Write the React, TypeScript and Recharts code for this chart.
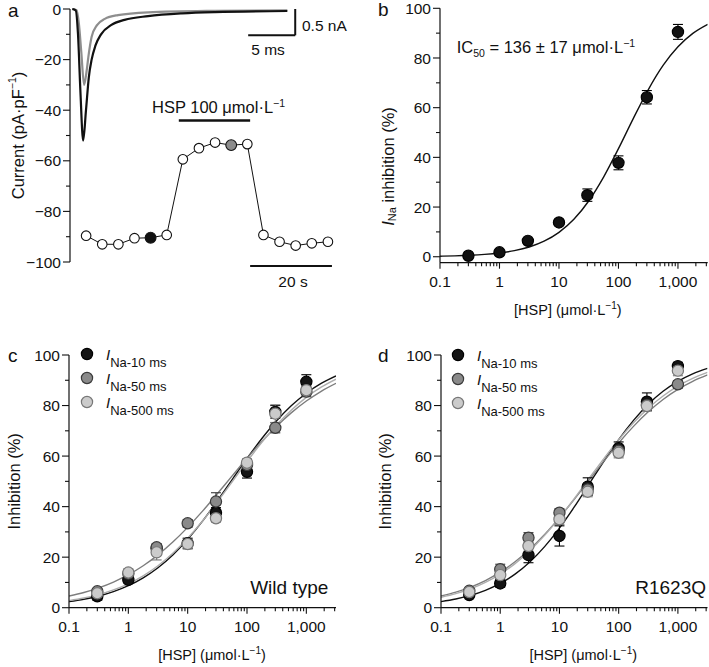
import React from "react";
import {
  ComposedChart,
  Line,
  Scatter,
  XAxis,
  YAxis,
  ErrorBar,
  ReferenceLine,
  Legend,
} from "recharts";

const FONT = '"Liberation Sans", Arial, Helvetica, sans-serif';
const INK = "#111";

// ---- panel a: Na current traces (ms) and time course (s)
const traceTimeControl = [0.25, 0.6, 0.85, 1.1, 1.4, 1.7, 2.0, 2.3, 2.7, 3.3, 4.4, 5.8, 8.3, 11.9, 15.4, 23.1];
const traceControl = [0, -0.5, -10, -32, -52, -40, -27, -20, -14.5, -10, -6.3, -4.3, -2.8, -1.7, -1.2, -0.8];
const traceTimeHsp = [0.25, 0.7, 0.95, 1.2, 1.5, 1.75, 1.95, 2.3, 2.85, 3.7, 5.1, 8.3, 15.4, 23.1];
const traceHsp = [0, -0.5, -6, -17, -30, -25, -19, -11, -6.5, -3.9, -2.4, -1.3, -0.7, -0.5];

const courseTime = [4, 8, 12, 16, 20, 24, 28, 32, 36, 40, 44, 48, 52, 56, 60, 64];
const courseCurrent = [-89.6, -93, -93, -90.6, -90.4, -89.3, -59.4, -55, -52.8, -53.8, -53.4, -89.3, -92, -93.5, -92.6, -92];
const controlIndex = 4;
const hspIndex = 9;

// ---- dose-response data
const conc = [0.3, 1, 3, 10, 30, 100, 300, 1000];
const fitConc = [0.1, 0.178, 0.316, 0.562, 1, 1.78, 3.16, 5.62, 10, 17.8, 31.6, 56.2, 100, 178, 316, 562, 1000, 1778, 3162];

const inaInhibition = [0.4, 1.8, 6.4, 13.8, 24.8, 37.8, 64.2, 90.5];
const inaSem = [0.5, 0.6, 1.0, 1.2, 2.5, 2.8, 2.7, 3.0];
const inaFit = [0.22, 0.35, 0.57, 0.93, 1.51, 2.45, 3.92, 6.25, 9.81, 15.06, 22.44, 32.07, 43.5, 55.7, 67.2, 77.0, 84.5, 89.9, 93.55];

const wt10 = [4.5, 11, 23.5, 25.5, 37.6, 53.8, 77.5, 89.4];
const wt10Sem = [1.5, 1.2, 1.5, 2, 2, 2.5, 2.5, 2.8];
const wt50 = [6.5, 13.5, 23.9, 33.4, 42, 56.5, 71.2, 85.5];
const wt50Sem = [1, 1.5, 1.5, 1.5, 3.5, 2, 2, 2];
const wt500 = [5.7, 13.9, 21.9, 25.2, 35.4, 57.4, 76.8, 86.1];
const wt500Sem = [1.5, 1.5, 3, 2, 1.5, 1.5, 3.5, 2];
const wtFit10 = [2.39, 3.33, 4.61, 6.36, 8.7, 11.81, 15.83, 20.89, 27.06, 34.25, 42.25, 50.68, 59.07, 66.96, 74.0, 80.0, 84.88, 88.75, 91.72];
const wtFit50 = [4.61, 6.03, 7.85, 10.16, 13.05, 16.61, 20.92, 25.99, 31.79, 38.21, 45.08, 52.15, 59.13, 65.76, 71.82, 77.19, 81.79, 85.64, 88.79];
const wtFit500 = [2.8, 3.83, 5.2, 7.04, 9.46, 12.59, 16.58, 21.52, 27.46, 34.29, 41.87, 49.85, 57.82, 65.41, 72.29, 78.25, 83.24, 87.26, 90.43];

const mut10 = [5, 9.6, 20.8, 28.4, 47.9, 63.1, 81.5, 95.6];
const mut10Sem = [1, 1.5, 3, 4, 3.5, 2.5, 3.5, 1.5];
const mut50 = [6.7, 15.2, 27.7, 37.6, 46.8, 62.1, 80.2, 88.4];
const mut50Sem = [1, 2, 2, 1.5, 2, 2, 2, 1.5];
const mut500 = [6.2, 12.9, 24.4, 35, 45.9, 61.3, 79.8, 93.8];
const mut500Sem = [1, 1.5, 2, 2, 2, 2, 2, 2];
const mutFit10 = [2.4, 3.42, 4.86, 6.86, 9.6, 13.29, 18.1, 24.16, 31.48, 39.86, 48.87, 57.95, 66.53, 74.13, 80.53, 85.64, 89.58, 92.53, 94.7];
const mutFit50 = [4.61, 6.15, 8.16, 10.76, 14.06, 18.16, 23.13, 28.99, 35.64, 42.9, 50.46, 58.0, 65.2, 71.76, 77.51, 82.39, 86.38, 89.59, 92.11];
const mutFit500 = [4.1, 5.56, 7.5, 10.04, 13.31, 17.45, 22.54, 28.61, 35.55, 43.18, 51.12, 59.01, 66.47, 73.18, 78.98, 83.8, 87.69, 90.74, 93.1];

const pulseNames = ["INa-10 ms", "INa-50 ms", "INa-500 ms"];

// ticks
const logMajor = [0.1, 1, 10, 100, 1000];
const logTicks = logMajor
  .flatMap((d) => [1, 2, 3, 4, 5, 6, 7, 8, 9].map((m) => +(d * m).toPrecision(2)))
  .filter((v) => v <= 3162);
const pctTicks = [0, 10, 20, 30, 40, 50, 60, 70, 80, 90, 100];
const pctMajor = [0, 20, 40, 60, 80, 100];
const currentTicks = [-100, -90, -80, -70, -60, -50, -40, -30, -20, -10, 0];
const currentMajor = [-100, -80, -60, -40, -20, 0];

const axisStyle = { stroke: INK, strokeWidth: 1.2 };

const rows = (xs: number[], ys: number[], errs?: number[]) =>
  xs.map((x, i) => ({ x, y: ys[i], err: errs ? errs[i] : 0 }));

function makeYTick(majors: number[], fmt: (v: number) => string) {
  return (props: any) => {
    const { x, y, payload } = props;
    const major = majors.includes(payload.value);
    return (
      <g>
        <line x1={x} x2={x - (major ? 7 : 4)} y1={y} y2={y} stroke={INK} strokeWidth={1.1} />
        {major && (
          <text x={x - 9} y={y} dy="0.36em" textAnchor="end" fontSize={15.5} fontFamily={FONT} fill={INK}>
            {fmt(payload.value)}
          </text>
        )}
      </g>
    );
  };
}

function LogTick(props: any) {
  const { x, y, payload } = props;
  const major = logMajor.includes(payload.value);
  return (
    <g>
      <line x1={x} x2={x} y1={y} y2={y + (major ? 6 : 3.5)} stroke={INK} strokeWidth={1.1} />
      {major && (
        <text x={x} y={y + 19} dy="0.36em" textAnchor="middle" fontSize={15.5} fontFamily={FONT} fill={INK}>
          {payload.value.toLocaleString("en-US")}
        </text>
      )}
    </g>
  );
}

const yTitle = (dx: number, dy: number, body: React.ReactNode) => (p: any) => {
  const vb = p.viewBox || { x: 0, y: 0, height: 0 };
  const cx = vb.x + dx;
  const cy = vb.y + vb.height / 2 + dy;
  return (
    <text
      x={cx}
      y={cy}
      transform={`rotate(-90 ${cx} ${cy})`}
      textAnchor="middle"
      dominantBaseline="central"
      fontSize={16.5}
      fontFamily={FONT}
      fill={INK}
    >
      {body}
    </text>
  );
};

const xTitle = (dx: number) => (p: any) => {
  const vb = p.viewBox || { x: 0, y: 0, width: 0 };
  return (
    <text x={vb.x + vb.width / 2 + dx} y={vb.y + 52} textAnchor="middle" fontSize={14.5} fontFamily={FONT} fill={INK}>
      [HSP] (μmol·L
      <tspan fontSize={10} dy={-6}>−1</tspan>
      <tspan dy={6}>)</tspan>
    </text>
  );
};

type Series = {
  name: string;
  values: number[];
  sem: number[];
  fit: number[];
  fill: string;
  edge: string;
  curve: string;
};

const dotShape = (fill: string, edge: string) => (p: any) =>
  <circle cx={p.cx} cy={p.cy} r={5.6} fill={fill} stroke={edge} strokeWidth={1.2} />;

function PulseLegend({ payload, series }: { payload?: any[]; series: Series[] }) {
  const items = (payload || []).filter((it) => it.type !== "none");
  return (
    <svg width={150} height={76} style={{ overflow: "visible" }}>
      {items.map((it, i) => {
        const s = series.find((q) => q.name === it.value) || series[i];
        const cy = 8 + i * 24;
        return (
          <g key={it.value}>
            <circle cx={8} cy={cy} r={5.6} fill={s.fill} stroke={s.edge} strokeWidth={1.2} />
            <text x={27} y={cy + 6} fontFamily={FONT} fill={INK}>
              <tspan fontStyle="italic" fontSize={15}>{String(it.value).slice(0, 1)}</tspan>
              <tspan fontSize={13} dy={6.5}>{String(it.value).slice(1)}</tspan>
            </text>
          </g>
        );
      })}
    </svg>
  );
}

function DoseChart(props: {
  left: number;
  top: number;
  width: number;
  height: number;
  margin: { top: number; right: number; bottom: number; left: number };
  yAxisWidth: number;
  yMin: number;
  series: Series[];
  title: React.ReactNode;
  titleX: number;
  titleDy: number;
  xTitleDx: number;
  legendAt?: { left: number; top: number };
}) {
  const { series } = props;
  return (
    <div style={{ position: "absolute", left: props.left, top: props.top }}>
      <ComposedChart width={props.width} height={props.height} margin={props.margin}>
        <XAxis
          dataKey="x"
          type="number"
          scale="log"
          domain={[0.1, 3162]}
          allowDataOverflow
          ticks={logTicks}
          interval={0}
          height={40}
          tickSize={0}
          tickMargin={0}
          tickLine={false}
          axisLine={axisStyle}
          tick={LogTick}
          label={xTitle(props.xTitleDx)}
        />
        <YAxis
          dataKey="y"
          type="number"
          domain={[props.yMin, 100]}
          allowDataOverflow
          ticks={pctTicks}
          interval={0}
          width={props.yAxisWidth}
          tickSize={0}
          tickMargin={0}
          tickLine={false}
          axisLine={axisStyle}
          tick={makeYTick(pctMajor, (v) => String(v))}
          label={yTitle(props.titleX, props.titleDy, props.title)}
        />
        {series.map((s) => (
          <Line
            key={"fit-" + s.name}
            data={rows(fitConc, s.fit)}
            dataKey="y"
            type="monotone"
            stroke={s.curve}
            strokeWidth={1.4}
            dot={false}
            activeDot={false}
            legendType="none"
            isAnimationActive={false}
          />
        ))}
        {series.map((s) => (
          <Scatter
            key={s.name}
            name={s.name}
            data={rows(conc, s.values, s.sem)}
            dataKey="y"
            fill={s.fill}
            shape={dotShape(s.fill, s.edge)}
            isAnimationActive={false}
          >
            <ErrorBar dataKey="err" direction="y" width={5} stroke={s.edge} strokeWidth={1.1} />
          </Scatter>
        ))}
        {props.legendAt && (
          <Legend
            layout="vertical"
            align="center"
            verticalAlign="middle"
            wrapperStyle={{ left: props.legendAt.left, top: props.legendAt.top, width: 150 }}
            content={(p: any) => <PulseLegend payload={p.payload} series={series} />}
          />
        )}
      </ComposedChart>
    </div>
  );
}

function PanelA() {
  const ctl = traceTimeControl.map((t, i) => ({ t, v: traceControl[i] }));
  const hsp = traceTimeHsp.map((t, i) => ({ t, v: traceHsp[i] }));
  const course = courseTime.map((s, i) => ({ s, v: courseCurrent[i] }));
  const courseDot = (p: any) => {
    const fill = p.index === controlIndex ? INK : p.index === hspIndex ? "#8c8c8c" : "#fff";
    return (
      <circle
        key={"c" + p.index}
        cx={p.cx}
        cy={p.cy}
        r={fill === "#fff" ? 4.8 : 5.4}
        fill={fill}
        stroke={INK}
        strokeWidth={1.1}
      />
    );
  };
  return (
    <div style={{ position: "absolute", left: 0, top: 0 }}>
      <ComposedChart width={355} height={300} margin={{ top: 9, right: 15, bottom: 38, left: 0 }}>
        <XAxis xAxisId="t" dataKey="t" type="number" domain={[0, 28.7]} hide />
        <XAxis xAxisId="s" dataKey="s" type="number" domain={[0, 67]} hide />
        <YAxis
          dataKey="v"
          type="number"
          domain={[-100, 0]}
          ticks={currentTicks}
          interval={0}
          width={70}
          tickSize={0}
          tickMargin={0}
          tickLine={false}
          axisLine={axisStyle}
          tick={makeYTick(currentMajor, (v) => (v === 0 ? "0" : "−" + Math.abs(v)))}
          label={yTitle(18, 0, (
            <>
              Current (pA·pF
              <tspan fontSize={10.5} dy={-6}>−1</tspan>
              <tspan dy={6}>)</tspan>
            </>
          ))}
        />
        <Line xAxisId="t" data={hsp} dataKey="v" type="monotone" stroke="#8e8e8e" strokeWidth={2.2} dot={false} activeDot={false} isAnimationActive={false} />
        <Line xAxisId="t" data={ctl} dataKey="v" type="monotone" stroke={INK} strokeWidth={2.2} dot={false} activeDot={false} isAnimationActive={false} />
        <Line xAxisId="s" data={course} dataKey="v" type="linear" stroke={INK} strokeWidth={1} dot={courseDot} activeDot={false} isAnimationActive={false} />
        {/* HSP application bar */}
        <ReferenceLine xAxisId="s" segment={[{ x: 27, y: -44.1 }, { x: 44.7, y: -44.1 }]} stroke={INK} strokeWidth={2.6} ifOverflow="visible" />
        {/* 20 s scale bar */}
        <ReferenceLine xAxisId="s" segment={[{ x: 44.7, y: -101.6 }, { x: 65, y: -101.6 }]} stroke={INK} strokeWidth={2} ifOverflow="visible" />
        {/* 5 ms / 0.5 nA scale bars */}
        <ReferenceLine xAxisId="t" segment={[{ x: 18.94, y: -10.4 }, { x: 23.94, y: -10.4 }]} stroke={INK} strokeWidth={2} ifOverflow="visible" />
        <ReferenceLine xAxisId="t" segment={[{ x: 23.94, y: 0 }, { x: 23.94, y: -10.4 }]} stroke={INK} strokeWidth={2} ifOverflow="visible" />
      </ComposedChart>
    </div>
  );
}

const inaSeries: Series[] = [
  { name: "INa", values: inaInhibition, sem: inaSem, fit: inaFit, fill: INK, edge: "#000", curve: INK },
];
const wtSeries: Series[] = [
  { name: pulseNames[0], values: wt10, sem: wt10Sem, fit: wtFit10, fill: "#141414", edge: "#000", curve: "#111" },
  { name: pulseNames[1], values: wt50, sem: wt50Sem, fit: wtFit50, fill: "#8a8a8a", edge: "#3a3a3a", curve: "#7d7d7d" },
  { name: pulseNames[2], values: wt500, sem: wt500Sem, fit: wtFit500, fill: "#cbcbcb", edge: "#777", curve: "#adadad" },
];
const mutSeries: Series[] = [
  { name: pulseNames[0], values: mut10, sem: mut10Sem, fit: mutFit10, fill: "#141414", edge: "#000", curve: "#111" },
  { name: pulseNames[1], values: mut50, sem: mut50Sem, fit: mutFit50, fill: "#8a8a8a", edge: "#3a3a3a", curve: "#7d7d7d" },
  { name: pulseNames[2], values: mut500, sem: mut500Sem, fit: mutFit500, fill: "#cbcbcb", edge: "#777", curve: "#adadad" },
];

const inhibitionTitle = <>Inhibition (%)</>;

export default function App() {
  return (
    <div
      style={{
        position: "absolute",
        left: 0,
        top: 0,
        width: 709,
        height: 667,
        background: "#fff",
        overflow: "hidden",
        fontFamily: FONT,
      }}
    >
      <PanelA />
      <DoseChart
        left={372}
        top={0}
        width={337}
        height={330}
        margin={{ top: 8.3, right: 1.3, bottom: 27.3, left: 0 }}
        yAxisWidth={68}
        yMin={-2.4}
        series={inaSeries}
        title={
          <>
            <tspan fontStyle="italic">I</tspan>
            <tspan fontSize={11} dy={4}>Na</tspan>
            <tspan dy={-4}> inhibition (%)</tspan>
          </>
        }
        titleX={16}
        titleDy={31}
        xTitleDx={-6}
      />
      <DoseChart
        left={0}
        top={330}
        width={345}
        height={337}
        margin={{ top: 25, right: 9, bottom: 19.3, left: 0 }}
        yAxisWidth={69}
        yMin={0}
        series={wtSeries}
        title={inhibitionTitle}
        titleX={14}
        titleDy={0}
        xTitleDx={9.5}
        legendAt={{ left: 78.7, top: 16 }}
      />
      <DoseChart
        left={372}
        top={330}
        width={337}
        height={337}
        margin={{ top: 25, right: 1.5, bottom: 19.3, left: 0 }}
        yAxisWidth={69}
        yMin={0}
        series={mutSeries}
        title={inhibitionTitle}
        titleX={13}
        titleDy={0}
        xTitleDx={9}
        legendAt={{ left: 78.3, top: 17 }}
      />
      <svg
        width={709}
        height={667}
        style={{ position: "absolute", left: 0, top: 0, pointerEvents: "none" }}
        fontFamily={FONT}
        fill={INK}
      >
        <text x={8} y={17} fontSize={19}>a</text>
        <text x={378} y={16} fontSize={19}>b</text>
        <text x={8} y={362} fontSize={19}>c</text>
        <text x={378} y={362} fontSize={19}>d</text>
        <text x={302} y={30.5} fontSize={15.5}>0.5 nA</text>
        <text x={268} y={55} fontSize={15.5} textAnchor="middle">5 ms</text>
        <text x={152} y={113.3} fontSize={16.5}>
          HSP 100 μmol·L<tspan fontSize={10.5} dy={-6.5}>−1</tspan>
        </text>
        <text x={293} y={287} fontSize={15.5} textAnchor="middle">20 s</text>
        <text x={456.7} y={53} fontSize={16.5}>
          IC<tspan fontSize={10.5} dy={4}>50</tspan>
          <tspan dy={-4}> = 136 ± 17 μmol·L</tspan>
          <tspan fontSize={10.5} dy={-6.5}>−1</tspan>
        </text>
        <text x={328.3} y={594} fontSize={19} textAnchor="end">Wild type</text>
        <text x={706} y={594} fontSize={19} textAnchor="end">R1623Q</text>
      </svg>
    </div>
  );
}
